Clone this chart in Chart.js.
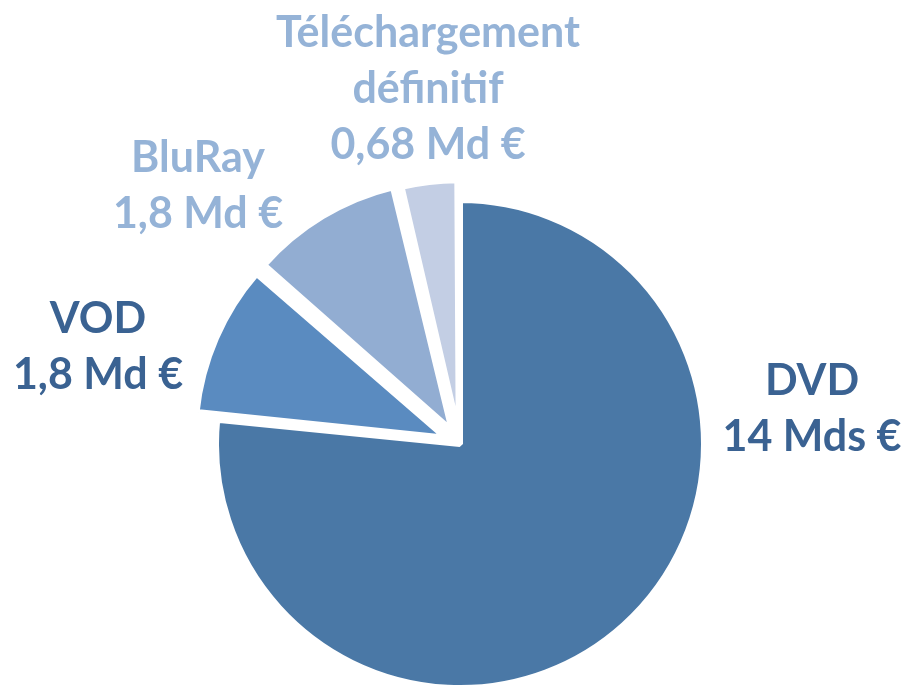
<!DOCTYPE html>
<html lang="fr">
<head>
    <meta charset="UTF-8">
    <title>Marché de la vidéo</title>
    <style>
        html, body {
            margin: 0;
            padding: 0;
            background: #ffffff;
        }
        #wrap {
            width: 905px;
            height: 687px;
        }
    </style>
    <script src="https://cdn.jsdelivr.net/npm/chart.js"></script>
</head>
<body>
    <div id="wrap">
        <canvas id="chart"></canvas>
    </div>

    <script>
        // Data (milliards d'euros)
        const categories = ['DVD', 'VOD', 'BluRay', 'Téléchargement définitif'];
        const values = [14, 1.8, 1.8, 0.68];
        const labelLines = [
            ['DVD', '14 Mds €'],
            ['VOD', '1,8 Md €'],
            ['BluRay', '1,8 Md €'],
            ['Téléchargement', 'définitif', '0,68 Md €']
        ];

        // Styles
        const sliceColors = ['#4A78A6', '#5A8BC0', '#92ADD2', '#C3CEE4'];
        const sliceOffsets = [0, 62, 62, 45];
        const labelColors = ['#3A6292', '#3A6292', '#95B3D7', '#95B3D7'];
        // label anchor (centre x, first baseline) relative to the pie centre
        const labelAnchors = [[352, -49], [-362, -111], [-262, -272], [-32, -397]];

        // Draws the data labels around the pie
        const pieLabels = {
            id: 'pieLabels',
            afterDatasetsDraw(chart) {
                const ctx = chart.ctx;
                const area = chart.chartArea;
                const cx = (area.left + area.right) / 2;
                const cy = (area.top + area.bottom) / 2;
                ctx.save();
                ctx.font = 'bold 43px Lato';
                ctx.textAlign = 'center';
                ctx.textBaseline = 'alphabetic';
                labelLines.forEach((lines, i) => {
                    ctx.fillStyle = labelColors[i];
                    lines.forEach((line, j) => {
                        ctx.fillText(line, cx + labelAnchors[i][0], cy + labelAnchors[i][1] + j * 56);
                    });
                });
                ctx.restore();
            }
        };

        const ctx = document.getElementById('chart').getContext('2d');
        const chart = new Chart(ctx, {
            type: 'pie',
            data: {
                labels: categories,
                datasets: [{
                    data: values,
                    backgroundColor: sliceColors,
                    borderColor: '#ffffff',
                    borderWidth: 6,
                    offset: sliceOffsets,
                    clip: false
                }]
            },
            options: {
                responsive: true,
                maintainAspectRatio: false,
                animation: false,
                radius: 244,
                layout: {
                    padding: { left: 15, right: 0, top: 201, bottom: 0 }
                },
                plugins: {
                    legend: { display: false },
                    tooltip: { enabled: false }
                }
            },
            plugins: [pieLabels]
        });
    </script>
</body>
</html>
